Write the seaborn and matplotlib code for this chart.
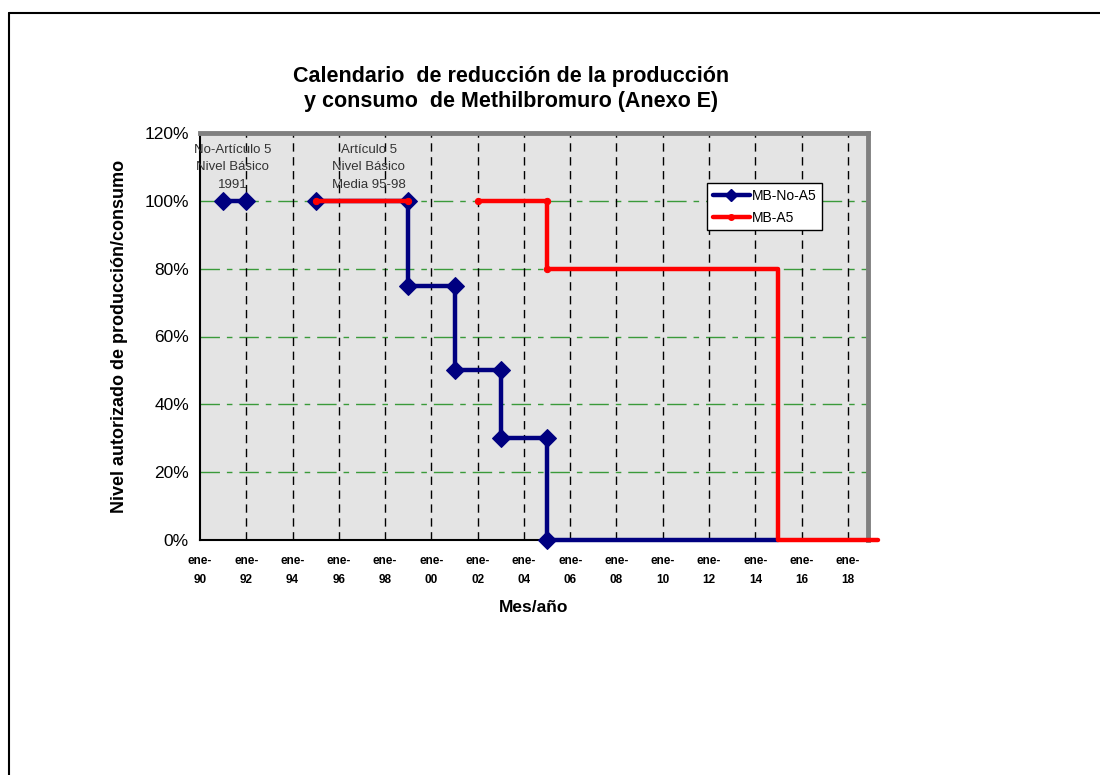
import numpy as np
import pandas as pd
import matplotlib
matplotlib.use("Agg")
import matplotlib.pyplot as plt
from matplotlib.lines import Line2D
import seaborn as sns

# MB-No-A5 (blue), split into segments where Excel left gaps
blue_year = [1991, 1992, 1995, 1999, 1999, 2001, 2001, 2003, 2003, 2005, 2005, 2015]
blue_level = [1.00, 1.00, 1.00, 1.00, 0.75, 0.75, 0.50, 0.50, 0.30, 0.30, 0.00, 0.00]
blue_seg = [0, 0, 1, 1, 1, 1, 1, 1, 1, 1, 1, 1]

# MB-A5 (red)
red_year = [1995, 1999, 2002, 2005, 2005, 2015, 2015, 2019.3]
red_level = [1.00, 1.00, 1.00, 1.00, 0.80, 0.80, 0.00, 0.00]
red_seg = [0, 0, 1, 1, 1, 1, 1, 1]

tick_years = list(range(1990, 2019, 2))
tick_labels = ["ene-\n%02d" % (y % 100) for y in tick_years]
y_ticks = [0, 0.2, 0.4, 0.6, 0.8, 1.0, 1.2]

notes = [
    (1991.4, "No-Artículo 5\nNivel Básico\n1991"),
    (1997.3, "Artículo 5\nNivel Básico\nMedia 95-98"),
]

sns.set_style("white")
plt.rcParams["font.family"] = ["Liberation Sans", "DejaVu Sans"]
plt.rcParams["text.color"] = "black"
plt.rcParams["axes.labelcolor"] = "black"
plt.rcParams["xtick.color"] = "black"
plt.rcParams["ytick.color"] = "black"

blue_df = pd.DataFrame({"year": blue_year, "level": blue_level, "seg": blue_seg})
red_df = pd.DataFrame({"year": red_year, "level": red_level, "seg": red_seg})

fig = plt.figure(figsize=(11, 7.75), dpi=100)
ax = fig.add_axes([200 / 1100, 1 - 540 / 775, 668 / 1100, 407 / 775])
ax.set_facecolor("#e4e4e4")

xmin, xmax = 1990, 2018.87
ax.set_xlim(xmin, xmax)
ax.set_ylim(0, 1.2)

# gridlines
for yv in y_ticks[1:-1]:
    ax.axhline(yv, color="#3a9a3a", lw=1, dashes=(14, 5, 4, 5), zorder=1)
for xv in tick_years[1:]:
    ax.axvline(xv, color="black", lw=1, dashes=(6, 4), zorder=1)

sns.lineplot(data=blue_df, x="year", y="level", units="seg", estimator=None,
             sort=False, color="#000080", lw=3.2, marker="D", markersize=9,
             markeredgecolor="#000080", ax=ax, zorder=3, clip_on=False)
# the last blue point sits under the red line without a marker
for ln in ax.lines[-2:]:
    n = len(ln.get_xdata())
    if n > 2:
        ln.set_markevery(list(range(n - 1)))

sns.lineplot(data=red_df, x="year", y="level", units="seg", estimator=None,
             sort=False, color="#ff0000", lw=3.2, marker="o", markersize=4.5,
             markeredgecolor="#ff0000", ax=ax, zorder=4, clip_on=False)
for ln in ax.lines[-2:]:
    n = len(ln.get_xdata())
    if n > 2:
        ln.set_markevery([0, 1, 2])

ax.set_xticks(tick_years)
ax.set_xticklabels(tick_labels, fontsize=8.5, fontweight="bold", linespacing=1.75)
ax.set_yticks(y_ticks)
ax.set_yticklabels(["%d%%" % round(v * 100) for v in y_ticks], fontsize=12.5)
ax.tick_params(axis="x", direction="inout", length=10, width=1, pad=6)
ax.tick_params(axis="y", direction="out", length=5, width=1, pad=3)

for side in ["top", "right"]:
    ax.spines[side].set_color("#808080")
    ax.spines[side].set_linewidth(3.5)
for side in ["left", "bottom"]:
    ax.spines[side].set_color("black")
    ax.spines[side].set_linewidth(1.5)
ax.spines["bottom"].set_zorder(2)

ax.set_xlabel("Mes/año", fontsize=12.5, fontweight="bold", labelpad=10)
ax.set_ylabel("Nivel autorizado de producción/consumo", fontsize=13,
              fontweight="bold", labelpad=12)

for xv, txt in notes:
    ax.text(xv, 1.168, txt, ha="center", va="top", fontsize=9.5,
            color="#333333", linespacing=1.6, zorder=5)

fig.text(511 / 1100, 1 - 89 / 775,
         "Calendario  de reducción de la producción\ny consumo  de Methilbromuro (Anexo E)",
         ha="center", va="center", fontsize=15.5, fontweight="bold", linespacing=1.3)

handles = [
    Line2D([], [], color="#000080", lw=3.2, marker="D", markersize=6),
    Line2D([], [], color="#ff0000", lw=3.2, marker="o", markersize=4),
]
leg = ax.legend(handles, ["MB-No-A5", "MB-A5"], loc="upper left",
                bbox_to_anchor=((707 - 200) / 668, (540 - 183) / 407),
                fontsize=10, frameon=True, fancybox=False, framealpha=1,
                edgecolor="black", handlelength=2.7, handletextpad=0.1,
                borderpad=0.4, labelspacing=0.6, borderaxespad=0)
leg.get_frame().set_linewidth(1)

# page border (top and left)
fig.add_artist(Line2D([9 / 1100, 1], [1 - 13 / 775, 1 - 13 / 775],
                      color="black", lw=1.5, transform=fig.transFigure))
fig.add_artist(Line2D([9 / 1100, 9 / 1100], [0, 1 - 13 / 775],
                      color="black", lw=1.5, transform=fig.transFigure))

fig.savefig("out.png", dpi=100)
